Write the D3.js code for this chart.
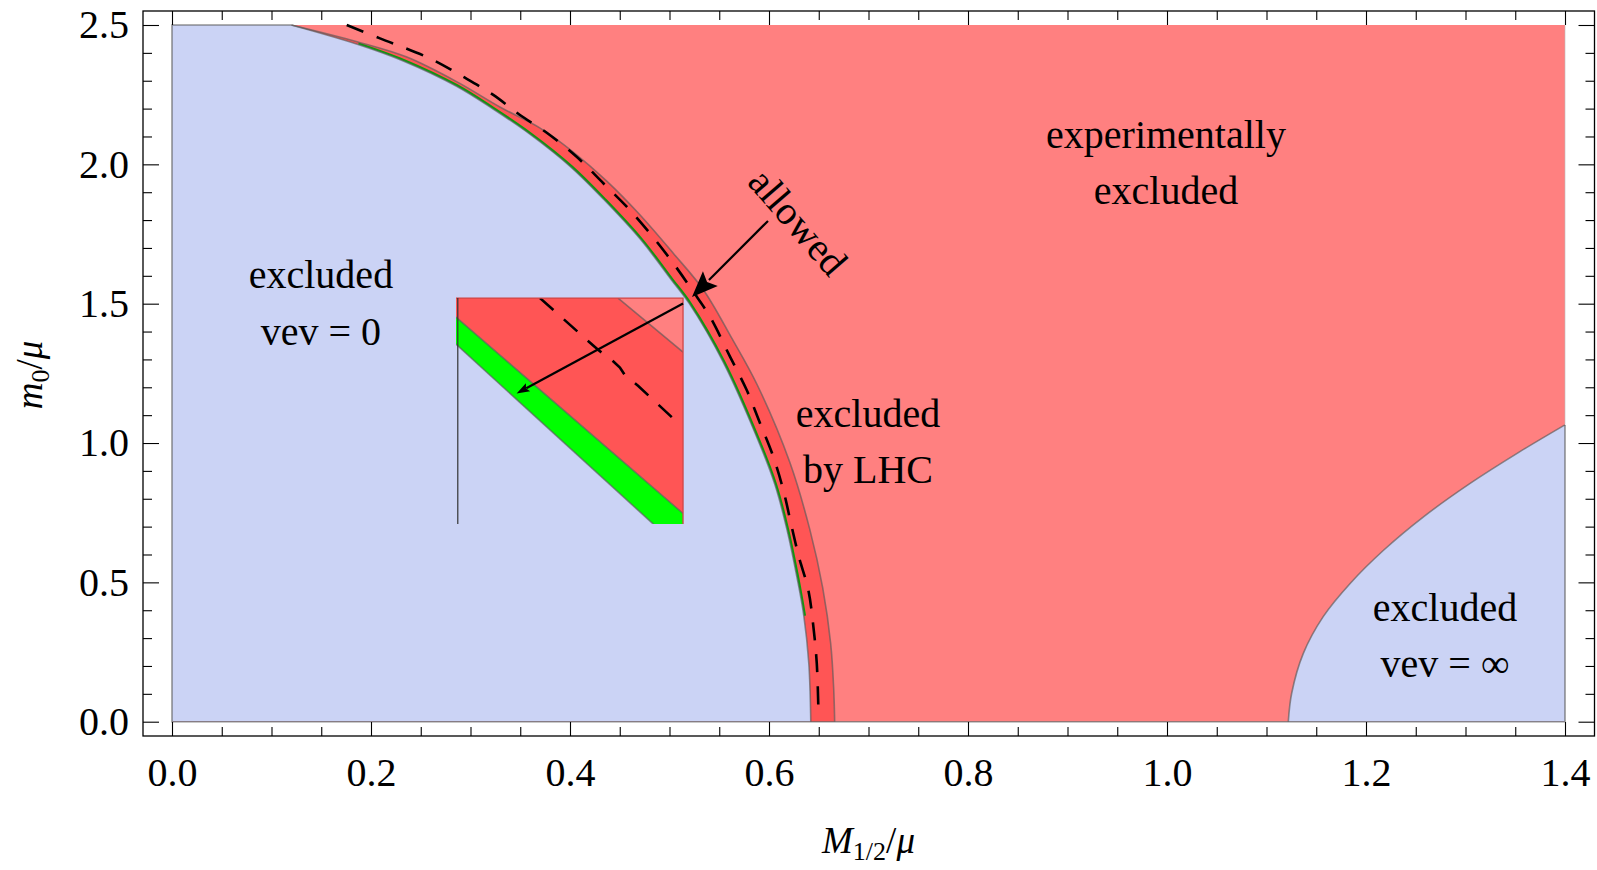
<!DOCTYPE html>
<html><head><meta charset="utf-8">
<script src="https://cdn.jsdelivr.net/npm/d3@7"></script>
<style>
body{margin:0;background:#fff}
svg{display:block}
text{font-family:"Liberation Serif","Times New Roman",serif;fill:#000}
</style>
</head><body>
<svg id="chart" width="1597" height="870"></svg>
<script>
// ---------------- data ----------------
const xDomain = [0, 1.4];
const yDomain = [0, 2.5];
const xMajorTicks = [0, 0.2, 0.4, 0.6, 0.8, 1.0, 1.2, 1.4];
const yMajorTicks = [0, 0.5, 1.0, 1.5, 2.0, 2.5];
const xTickLabels = ["0.0","0.2","0.4","0.6","0.8","1.0","1.2","1.4"];
const yTickLabels = ["0.0","0.5","1.0","1.5","2.0","2.5"];

// boundary of "excluded vev = 0" (M1/2, m0)
const vevZeroEdge = [[0.120,2.50],[0.187,2.43],[0.233,2.37],[0.286,2.28],[0.322,2.20],[0.359,2.11],
  [0.401,1.99],[0.435,1.87],[0.471,1.73],[0.502,1.585],[0.520,1.50],[0.554,1.29],[0.589,1.01],
  [0.606,0.85],[0.618,0.69],[0.628,0.52],[0.635,0.38],[0.640,0.21],[0.642,0.00]];
// outer boundary of the LHC-excluded band
const lhcEdge = [[0.120,2.50],[0.186,2.44],[0.236,2.385],[0.287,2.295],[0.330,2.205],[0.370,2.13],
  [0.403,2.045],[0.437,1.94],[0.470,1.82],[0.504,1.68],[0.534,1.55],[0.562,1.38],[0.588,1.21],
  [0.621,0.93],[0.641,0.69],[0.654,0.48],[0.662,0.28],[0.665,0.12],[0.666,0.00]];
// thin allowed (green) band, along the vev = 0 boundary
const allowedBand = [[0.187,2.43],[0.233,2.37],[0.286,2.28],[0.322,2.20],[0.359,2.11],
  [0.401,1.99],[0.435,1.87],[0.471,1.73],[0.502,1.585],[0.520,1.50],[0.554,1.29],[0.589,1.01],
  [0.606,0.85],[0.618,0.69],[0.628,0.52],[0.635,0.38]];
// dashed curve
const dashedCurve = [[0.1756,2.50],[0.209,2.452],[0.2593,2.380],[0.2928,2.314],[0.3229,2.249],
  [0.3497,2.177],[0.378,2.11],[0.4067,2.027],[0.4335,1.932],[0.457,1.848],[0.4804,1.752],
  [0.5038,1.645],[0.5239,1.543],[0.5407,1.453],[0.5608,1.310],[0.5776,1.190],[0.591,1.071],
  [0.6043,0.951],[0.6144,0.831],[0.6228,0.700],[0.630,0.592],[0.6395,0.473],[0.6446,0.341],
  [0.648,0.210],[0.6496,0.05]];
// boundary of "excluded vev = ∞"
const vevInfEdge = [[1.1219,0.0],[1.1253,0.102],[1.137,0.245],[1.157,0.377],[1.1843,0.497],
  [1.2179,0.616],[1.2581,0.736],[1.3050,0.856],[1.3519,0.963],[1.400,1.065]];

// inset (unit coordinates inside the inset box)
const insetBox = {x0: 0.2854, x1: 0.5136, y0: 0.709, y1: 1.520};
const insetRed = [[0,1],[0,0.916],[1,0.047],[1,1]];
const insetLight = [[0.714,1],[1,1],[1,0.761]];
const insetGreen = [[0,0.916],[1,0.047],[1,0],[0.869,0],[0,0.796]];
const insetDashed = [[0.370,1],[0.627,0.770],[0.686,0.726],[0.722,0.693],[0.744,0.659],[0.803,0.611],[0.984,0.442]];
const insetArrow = [[1,0.9765],[0.267,0.578]];

// annotations
const allowedArrow = [[0.599,1.797],[0.5226,1.524]];
const allowedLabel = {text:"allowed", x:0.629, y:1.793, angle:49};
const regionLabels = [
  {lines:["experimentally","excluded"], x:0.999, y:[2.057,1.856]},
  {lines:["excluded","vev = 0"], x:0.1497, y:[1.556,1.352]},
  {lines:["excluded","by LHC"], x:0.6995, y:[1.059,0.855]},
  {lines:["excluded","vev = \u221E"], x:1.2794, y:[0.361,0.160]}
];

// ---------------- drawing ----------------
const svg = d3.select("#chart");
const frame = {left:143, top:11, right:1594.5, bottom:736};
const x = d3.scaleLinear(xDomain, [172, 1565]);
const y = d3.scaleLinear(yDomain, [721.7, 25]);

const col = {blue:"#CBD3F5", light:"#FF8080", dark:"#FF5555", green:"#00FF00", edge:"#5a5a5a"};

const smooth = d3.line().x(d=>x(d[0])).y(d=>y(d[1])).curve(d3.curveCatmullRom.alpha(0.5));
const straight = d3.line().x(d=>x(d[0])).y(d=>y(d[1]));

const plot = svg.append("g");
plot.append("rect").attr("x",x(0)).attr("y",y(2.5)).attr("width",x(1.4)-x(0)).attr("height",y(0)-y(2.5))
  .attr("fill",col.light);
plot.append("path")
  .attr("d", smooth(lhcEdge) + `L${x(0)},${y(0)}L${x(0)},${y(2.5)}Z`)
  .attr("fill",col.dark);
plot.append("path").attr("d", smooth(allowedBand))
  .attr("fill","none").attr("stroke","#0c9c0c").attr("stroke-width",4.5);
plot.append("path")
  .attr("d", smooth(vevZeroEdge) + `L${x(0)},${y(0)}L${x(0)},${y(2.5)}Z`)
  .attr("fill",col.blue);
plot.append("path")
  .attr("d", smooth(vevInfEdge) + `L${x(1.4)},${y(0)}Z`)
  .attr("fill",col.blue);

const edgeStyle = s => s.attr("fill","none").attr("stroke",col.edge).attr("stroke-opacity",0.65).attr("stroke-width",1.6);
plot.append("path").attr("d", smooth(lhcEdge)).call(edgeStyle);
plot.append("path").attr("d", smooth(vevZeroEdge)).call(edgeStyle);
plot.append("path").attr("d", smooth(vevInfEdge)).call(edgeStyle);
plot.append("path").attr("d", straight([[vevZeroEdge[0][0],2.5],[0,2.5],[0,0],[1.4,0],[1.4,vevInfEdge[vevInfEdge.length-1][1]]])).call(edgeStyle);
plot.append("path").attr("d", straight([[1.4,vevInfEdge[vevInfEdge.length-1][1]],[1.4,2.5]]))
  .attr("fill","none").attr("stroke","#bbb").attr("stroke-opacity",0.6).attr("stroke-width",1);

plot.append("path").attr("d", smooth(dashedCurve))
  .attr("fill","none").attr("stroke","#000").attr("stroke-width",2.6).attr("stroke-dasharray","18,14");

// ---------------- inset ----------------
const xi = d3.scaleLinear([0,1],[x(insetBox.x0), x(insetBox.x1)]);
const yi = d3.scaleLinear([0,1],[y(insetBox.y0), y(insetBox.y1)]);
const iline = d3.line().x(d=>xi(d[0])).y(d=>yi(d[1]));
svg.append("clipPath").attr("id","insetClip").append("rect")
  .attr("x",xi(0)).attr("y",yi(1)).attr("width",xi(1)-xi(0)).attr("height",yi(0)-yi(1));
const inset = svg.append("g").attr("clip-path","url(#insetClip)");
inset.append("rect").attr("x",xi(0)).attr("y",yi(1)).attr("width",xi(1)-xi(0)).attr("height",yi(0)-yi(1)).attr("fill",col.blue);
inset.append("path").attr("d", iline(insetRed)+"Z").attr("fill",col.dark);
inset.append("path").attr("d", iline(insetLight)+"Z").attr("fill",col.light);
inset.append("path").attr("d", iline(insetGreen)+"Z").attr("fill",col.green);
inset.append("path").attr("d", iline(insetGreen.slice(0,2))).call(edgeStyle);
inset.append("path").attr("d", iline([insetGreen[3],insetGreen[4]])).call(edgeStyle);
inset.append("path").attr("d", iline([insetLight[0],insetLight[2]])).call(edgeStyle);
inset.append("path").attr("d", iline(insetDashed))
  .attr("fill","none").attr("stroke","#000").attr("stroke-width",2.6).attr("stroke-dasharray","18,14");
svg.append("path").attr("d", iline([[0,1],[1,1],[1,0]])).attr("fill","none").attr("stroke","#d04545").attr("stroke-width",1.3);
svg.append("path").attr("d", iline([[0.008,1],[0.008,0]])).attr("fill","none").attr("stroke","#333").attr("stroke-width",1.2);

function arrow(x1,y1,x2,y2,len,half,width){
  const dx=x2-x1, dy=y2-y1, L=Math.hypot(dx,dy), ux=dx/L, uy=dy/L;
  const bx=x2-ux*len, by=y2-uy*len;
  svg.append("line").attr("x1",x1).attr("y1",y1).attr("x2",bx+ux*2).attr("y2",by+uy*2)
    .attr("stroke","#000").attr("stroke-width",width);
  svg.append("path").attr("d",`M${x2},${y2}L${bx-uy*half},${by+ux*half}L${bx+ux*len*0.18},${by+uy*len*0.18}L${bx+uy*half},${by-ux*half}Z`)
    .attr("fill","#000");
}
arrow(xi(insetArrow[0][0]), yi(insetArrow[0][1]), xi(insetArrow[1][0]), yi(insetArrow[1][1]), 13, 4.5, 2.2);
arrow(x(allowedArrow[0][0]), y(allowedArrow[0][1]), x(allowedArrow[1][0]), y(allowedArrow[1][1]), 26, 10.5, 2.2);

svg.append("text").attr("transform",`translate(${x(allowedLabel.x)},${y(allowedLabel.y)}) rotate(${allowedLabel.angle})`)
  .attr("text-anchor","middle").attr("dy","0.33em").attr("font-size",40).text(allowedLabel.text);
regionLabels.forEach(l=>{
  l.lines.forEach((t,i)=>{
    svg.append("text").attr("x",x(l.x)).attr("y",y(l.y[i])).attr("text-anchor","middle")
      .attr("font-size",40).text(t);
  });
});

// ---------------- frame & axes ----------------
const axStyle = g => { g.select(".domain").remove(); g.selectAll("line").attr("stroke","#000").attr("stroke-width",1.1);
  g.selectAll("text").attr("font-size",40).attr("font-family","Liberation Serif, Times New Roman, serif").attr("fill","#000"); };
const xMinor = x.ticks(28).filter(v=>!xMajorTicks.some(m=>Math.abs(m-v)<1e-6));
const yMinor = y.ticks(25).filter(v=>!yMajorTicks.some(m=>Math.abs(m-v)<1e-6));

svg.append("g").attr("transform",`translate(0,${frame.bottom})`)
  .call(d3.axisBottom(x).tickValues(xMajorTicks).tickSize(-14).tickPadding(22).tickFormat((d,i)=>xTickLabels[i])).call(axStyle);
svg.append("g").attr("transform",`translate(0,${frame.bottom})`)
  .call(d3.axisBottom(x).tickValues(xMinor).tickSize(-9).tickFormat("")).call(axStyle);
svg.append("g").attr("transform",`translate(0,${frame.top})`)
  .call(d3.axisTop(x).tickValues(xMajorTicks).tickSize(-14).tickFormat("")).call(axStyle);
svg.append("g").attr("transform",`translate(0,${frame.top})`)
  .call(d3.axisTop(x).tickValues(xMinor).tickSize(-9).tickFormat("")).call(axStyle);
svg.append("g").attr("transform",`translate(${frame.left},0)`)
  .call(d3.axisLeft(y).tickValues(yMajorTicks).tickSize(-16).tickPadding(14).tickFormat((d,i)=>yTickLabels[i])).call(axStyle);
svg.append("g").attr("transform",`translate(${frame.left},0)`)
  .call(d3.axisLeft(y).tickValues(yMinor).tickSize(-9).tickFormat("")).call(axStyle);
svg.append("g").attr("transform",`translate(${frame.right},0)`)
  .call(d3.axisRight(y).tickValues(yMajorTicks).tickSize(-16).tickFormat("")).call(axStyle);
svg.append("g").attr("transform",`translate(${frame.right},0)`)
  .call(d3.axisRight(y).tickValues(yMinor).tickSize(-9).tickFormat("")).call(axStyle);

svg.append("rect").attr("x",frame.left).attr("y",frame.top).attr("width",frame.right-frame.left)
  .attr("height",frame.bottom-frame.top).attr("fill","none").attr("stroke","#000").attr("stroke-width",1.3);

// axis titles
const xt = svg.append("text").attr("x",(x(0)+x(1.4))/2).attr("y",853).attr("text-anchor","middle").attr("font-size",37);
xt.append("tspan").attr("font-style","italic").text("M");
xt.append("tspan").attr("font-size",26).attr("dy",7).text("1/2");
xt.append("tspan").attr("dy",-7).text("/");
xt.append("tspan").attr("font-style","italic").text("\u03BC");

const yt = svg.append("text").attr("transform","translate(42,375) rotate(-90)").attr("text-anchor","middle").attr("font-size",37);
yt.append("tspan").attr("font-style","italic").text("m");
yt.append("tspan").attr("font-size",26).attr("dy",7).text("0");
yt.append("tspan").attr("dy",-7).text("/");
yt.append("tspan").attr("font-style","italic").text("\u03BC");
</script>
</body></html>
